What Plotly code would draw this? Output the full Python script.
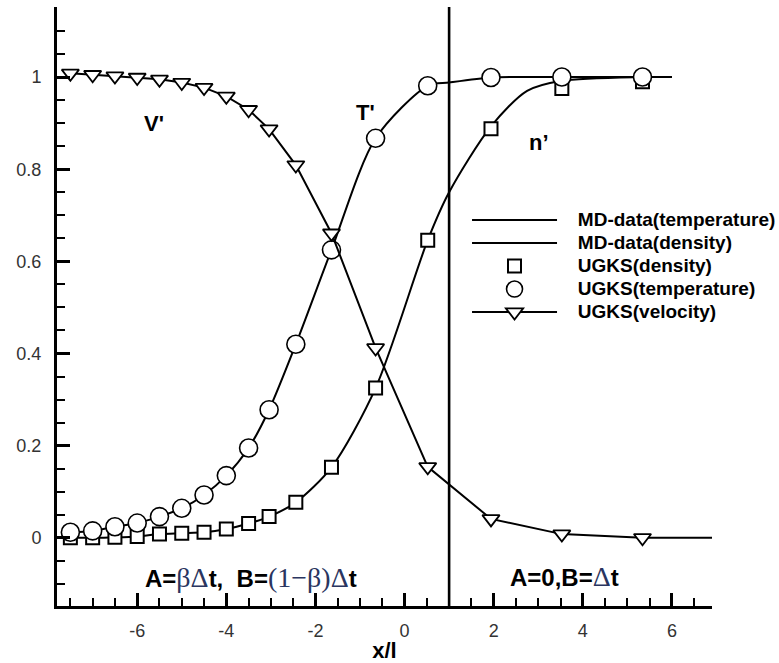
import plotly.graph_objects as go

# ---------------- data ----------------
# UGKS sample positions (x/l)
UGKS_X = [-7.5, -7.0, -6.5, -6.0, -5.5, -5.0, -4.5, -4.0, -3.5,
          -3.04, -2.44, -1.64, -0.65, 0.52, 1.94, 3.53, 5.34]
UGKS_DENSITY = [0.0, 0.0, 0.001, 0.003, 0.008, 0.010, 0.012, 0.019, 0.031,
                0.046, 0.077, 0.153, 0.325, 0.646, 0.888, 0.975, 0.990]
UGKS_TEMPERATURE = [0.012, 0.015, 0.024, 0.032, 0.046, 0.064, 0.093, 0.135, 0.195,
                    0.278, 0.420, 0.625, 0.867, 0.981, 0.999, 1.0, 1.0]
UGKS_VELOCITY = [1.008, 1.005, 1.002, 0.999, 0.995, 0.988, 0.977, 0.958, 0.929,
                 0.887, 0.809, 0.661, 0.412, 0.154, 0.041, 0.008, 0.0]
# velocity line continues to the end of the axis
VEL_TAIL_X = [5.34, 6.9]
VEL_TAIL_Y = [0.0, 0.0]

# MD-data curves
MD_X = [-7.5, -7.0, -6.5, -6.0, -5.5, -5.0, -4.5, -4.0, -3.5,
        -3.04, -2.44, -1.64, -0.65, 0.52, 1.0, 1.94, 2.75, 3.53, 5.34, 6.0]
MD_TEMPERATURE = [0.012, 0.015, 0.024, 0.032, 0.046, 0.064, 0.093, 0.135, 0.195,
                  0.278, 0.420, 0.625, 0.867, 0.981, 0.988, 0.999, 1.0, 1.0, 1.0, 1.0]
MD_DENSITY = [0.0, 0.0, 0.001, 0.003, 0.008, 0.010, 0.012, 0.019, 0.031,
              0.046, 0.077, 0.153, 0.325, 0.646, 0.750, 0.893, 0.970, 0.992, 1.0, 1.0]

INTERFACE_X = 1.0

X_TICK_VALS = [-6, -4, -2, 0, 2, 4, 6]
X_TICK_TEXT = ["-6", "-4", "-2", "0", "2", "4", "6"]
Y_TICK_VALS = [0, 0.2, 0.4, 0.6, 0.8, 1.0]
Y_TICK_TEXT = ["0", "0.2", "0.4", "0.6", "0.8", "1"]

X_RANGE = [-7.8, 6.9]
Y_RANGE = [-0.148, 1.152]

# ---------------- figure ----------------
fig = go.Figure()

NB = "\u00a0\u00a0\u00a0"


def lg(t):
    return f"<span style=\"font-size:19px\">{NB}{t}</span>"


fig.add_trace(go.Scatter(x=MD_X, y=MD_TEMPERATURE, mode="lines",
                         name=lg("MD-data(temperature)"),
                         line=dict(color="black", width=2, shape="spline", smoothing=0.8)))
fig.add_trace(go.Scatter(x=MD_X, y=MD_DENSITY, mode="lines",
                         name=lg("MD-data(density)"),
                         line=dict(color="black", width=2, shape="spline", smoothing=0.8)))
fig.add_trace(go.Scatter(x=UGKS_X, y=UGKS_DENSITY, mode="markers",
                         name=lg("UGKS(density)"),
                         marker=dict(symbol="square", size=13, color="white",
                                     line=dict(color="black", width=2))))
fig.add_trace(go.Scatter(x=UGKS_X, y=UGKS_TEMPERATURE, mode="markers",
                         name=lg("UGKS(temperature)"),
                         marker=dict(symbol="circle", size=18, color="white",
                                     line=dict(color="black", width=1.6))))
fig.add_trace(go.Scatter(x=VEL_TAIL_X, y=VEL_TAIL_Y, mode="lines", showlegend=False,
                         line=dict(color="black", width=2), hoverinfo="skip"))
fig.add_trace(go.Scatter(x=UGKS_X, y=UGKS_VELOCITY, mode="lines+markers",
                         name=lg("UGKS(velocity)"),
                         line=dict(color="black", width=2),
                         marker=dict(symbol="triangle-down", size=15, color="white",
                                     line=dict(color="black", width=1.8))))

fig.add_shape(type="line", xref="x", yref="paper", x0=INTERFACE_X, x1=INTERFACE_X,
              y0=0, y1=1, line=dict(color="black", width=2.6))

sans_b = "Liberation Sans"
serif_c = "color:#2a3560;font-family:'Liberation Serif';font-weight:normal;font-size:28px"


def ser(t):
    return f"<span style=\"{serif_c}\">{t}</span>"


annos = [
    dict(x=-5.62, y=0.900, text="<b>V'</b>", size=22),
    dict(x=-0.87, y=0.924, text="<b>T'</b>", size=22),
    dict(x=3.02, y=0.859, text="<b>n’</b>", size=22),
    dict(x=-3.44, y=-0.087,
         text="<b>A=</b>" + ser("βΔ") + "<b>t,  B=</b>" + ser("(1−β)Δ") + "<b>t</b>", size=24),
    dict(x=3.59, y=-0.083, text="<b>A=0,B=</b>" + ser("Δ") + "<b>t</b>", size=24),
]
for a in annos:
    fig.add_annotation(x=a["x"], y=a["y"], xref="x", yref="y", text=a["text"],
                       showarrow=False, font=dict(family=sans_b, size=a["size"], color="black"),
                       xanchor="center", yanchor="middle")

fig.update_layout(
    width=779, height=663,
    margin=dict(l=57, r=67, t=7, b=57, autoexpand=False),
    paper_bgcolor="white", plot_bgcolor="white",
    showlegend=True,
    legend=dict(x=0.626, y=0.672, xanchor="left", yanchor="top",
                bgcolor="rgba(0,0,0,0)", borderwidth=0,
                font=dict(family=sans_b, size=15.4, color="black", weight="bold"),
                itemwidth=85, tracegroupgap=0),
    font=dict(family=sans_b),
)

fig.update_xaxes(range=X_RANGE, showgrid=False, zeroline=False,
                 showline=True, linecolor="black", linewidth=3, mirror=False,
                 ticks="inside", ticklen=13, tickwidth=3, tickcolor="black",
                 tickmode="array", tickvals=X_TICK_VALS, ticktext=X_TICK_TEXT,
                 minor=dict(ticks="inside", ticklen=8, tickwidth=1.5, tickcolor="black",
                            tickmode="linear", tick0=0, dtick=0.5),
                 tickfont=dict(family=sans_b, size=18, color="#333333"),
                 ticklabelstandoff=6,
                 title=dict(text="<b>x/l</b>", font=dict(family=sans_b, size=22, color="black"),
                            standoff=5))
fig.update_yaxes(range=Y_RANGE, showgrid=False, zeroline=False,
                 showline=True, linecolor="black", linewidth=3, mirror=False,
                 ticks="inside", ticklen=13, tickwidth=3, tickcolor="black",
                 tickmode="array", tickvals=Y_TICK_VALS, ticktext=Y_TICK_TEXT,
                 minor=dict(ticks="inside", ticklen=8, tickwidth=1.5, tickcolor="black",
                            tickmode="linear", tick0=0, dtick=0.05),
                 tickfont=dict(family=sans_b, size=18, color="#333333"),
                 ticklabelstandoff=9)

fig.write_html("out.html")
